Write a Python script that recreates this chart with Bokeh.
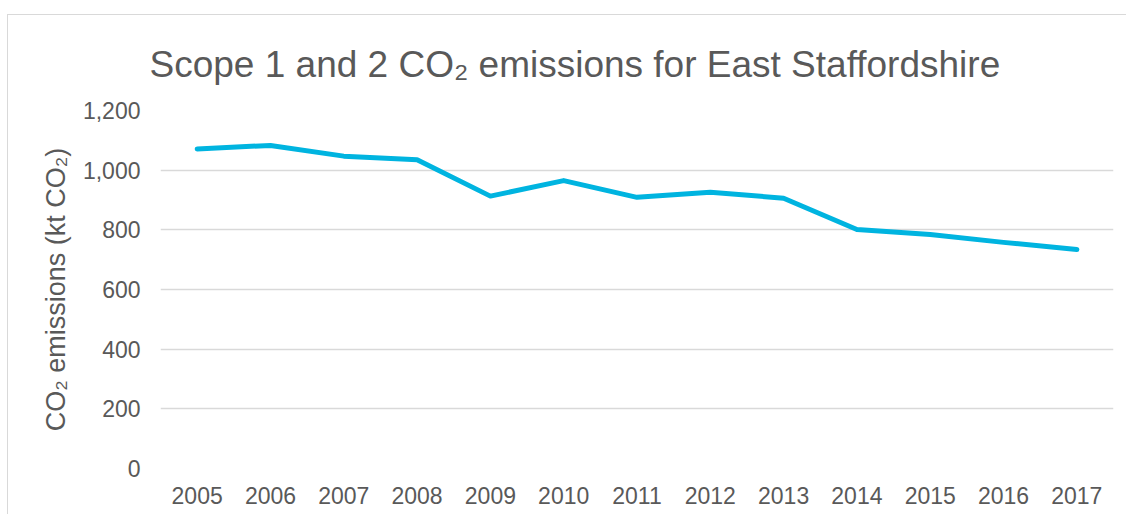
from bokeh.plotting import figure
from bokeh.models import Range1d, FactorRange, Title, NumeralTickFormatter, FixedTicker
from bokeh.embed import file_html
from bokeh.resources import INLINE

years = ["2005", "2006", "2007", "2008", "2009", "2010", "2011", "2012", "2013",
         "2014", "2015", "2016", "2017"]
emissions = [1071, 1083, 1047, 1035, 913, 965, 909, 926, 906, 801, 784, 758, 734]
y_ticks = [0, 200, 400, 600, 800, 1000, 1200]

TEXT = "#595959"
GRID = "#d9d9d9"
FONT = "Liberation Sans"

W, H = 1119, 500
p = figure(width=W, height=H, x_range=FactorRange(*years), y_range=Range1d(0, 1200),
           output_backend="svg", toolbar_location=None,
           min_border_left=152, min_border_right=W - 152 - 953, min_border_top=95,
           min_border_bottom=H - 95 - 358)
p.margin = (14, 0, 0, 7)
p.styles = {"border-top": "1px solid #d9d9d9", "border-left": "1px solid #d9d9d9"}
p.title = None
p.outline_line_color = None

p.line(years, emissions, line_color="#00B4E0", line_width=5, line_cap="round", line_join="round")

t = Title(text="Scope 1 and 2 CO\u2082 emissions for East Staffordshire", align="left",
          offset=-11, text_font=FONT, text_font_size="37px", text_font_style="normal",
          text_color=TEXT, standoff=52)
p.add_layout(t, "above")

for ax in (p.xaxis[0], p.yaxis[0]):
    ax.axis_line_color = None
    ax.major_tick_line_color = None
    ax.minor_tick_line_color = None
    ax.major_label_text_font = FONT
    ax.major_label_text_font_size = "23px"
    ax.major_label_text_color = TEXT

p.xaxis.major_label_standoff = 12
p.yaxis.major_label_standoff = 14
p.yaxis.ticker = FixedTicker(ticks=y_ticks)
p.yaxis.formatter = NumeralTickFormatter(format="0,0")
p.yaxis.axis_label = "CO\u2082 emissions (kt CO\u2082)"
p.yaxis.axis_label_text_font = FONT
p.yaxis.axis_label_text_font_size = "27px"
p.yaxis.axis_label_text_font_style = "normal"
p.yaxis.axis_label_text_color = TEXT
p.yaxis.axis_label_standoff = 9

p.xgrid.grid_line_color = None
p.ygrid.grid_line_color = GRID
p.ygrid.grid_line_width = 1.5

open("out.html", "w").write(file_html(p, INLINE))
